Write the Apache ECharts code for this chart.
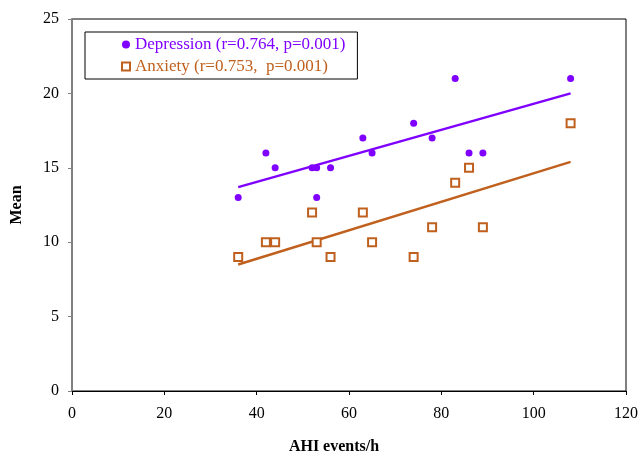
<!DOCTYPE html>
<html>
<head>
<meta charset="utf-8">
<script src="https://cdn.jsdelivr.net/npm/echarts@6/dist/echarts.min.js"></script>
<style>
  html, body { margin: 0; padding: 0; background: #fff; }
  #main { width: 638px; height: 455px; }
</style>
</head>
<body>
<div id="main"></div>
<script>
// AHI events/h for each patient
var ahi = [36, 42, 44, 52, 53, 53, 56, 63, 65, 74, 78, 83, 86, 89, 108];
var depression = [13, 16, 15, 15, 15, 13, 15, 17, 16, 18, 17, 21, 16, 16, 21];
var anxietyAhi = [36, 42, 44, 52, 53, 56, 63, 65, 74, 78, 83, 86, 89, 108];
var anxiety = [9, 10, 10, 12, 10, 9, 12, 10, 9, 11, 14, 15, 11, 18];
// trend line ends
var depTrend = [[36, 13.7], [108, 20.0]];
var anxTrend = [[36, 8.5], [108, 15.4]];

var depName = "Depression (r=0.764, p=0.001)";
var anxName = "Anxiety (r=0.753,  p=0.001)";
var serif = '"Liberation Serif", "Times New Roman", serif';
var purple = "#7f00ff";
var brown = "#c0601e";

function pairs(xs, ys) {
  var out = [];
  for (var i = 0; i < xs.length; i++) out.push([xs[i], ys[i]]);
  return out;
}

var myChart = echarts.init(document.getElementById("main"));
myChart.setOption({
  animation: false,
  textStyle: { fontFamily: serif },
  grid: {
    left: 72, right: 12, top: 19, bottom: 64,
    containLabel: false,
    outerBoundsMode: "none",
    show: true, borderColor: "#000", borderWidth: 1
  },
  legend: {
    left: 85, top: 32,
    orient: "vertical",
    padding: [4, 12, 4, 36],
    itemWidth: 8, itemHeight: 8,
    itemGap: 5,
    borderColor: "#000", borderWidth: 1,
    backgroundColor: "#fff",
    textStyle: { fontFamily: serif, fontSize: 17 },
    data: [
      { name: depName, icon: "circle", textStyle: { color: purple } },
      { name: anxName, icon: "rect", textStyle: { color: brown } }
    ]
  },
  xAxis: {
    type: "value",
    min: 0, max: 120, interval: 20,
    name: "AHI events/h",
    nameLocation: "middle",
    nameGap: 48,
    nameTextStyle: { fontFamily: serif, fontSize: 16, fontWeight: "bold", color: "#000", padding: [0, 30, 0, 0] },
    axisLine: { lineStyle: { color: "#000", width: 1 } },
    axisTick: { show: true, length: 4, lineStyle: { color: "#000" } },
    axisLabel: { color: "#000", fontSize: 16, margin: 15, fontFamily: serif },
    splitLine: { show: false }
  },
  yAxis: {
    type: "value",
    min: 0, max: 25, interval: 5,
    name: "Mean",
    nameLocation: "middle",
    nameGap: 47,
    nameRotate: 90,
    nameTextStyle: { fontFamily: serif, fontSize: 16, fontWeight: "bold", color: "#000" },
    axisLine: { show: true, lineStyle: { color: "#808080", width: 2 } },
    axisTick: { show: true, length: 4, lineStyle: { color: "#808080" } },
    axisLabel: { color: "#000", fontSize: 16, margin: 13, fontFamily: serif },
    splitLine: { show: false }
  },
  series: [
    {
      name: depName,
      type: "scatter",
      symbol: "circle",
      symbolSize: 7,
      itemStyle: { color: purple, opacity: 1 },
      data: pairs(ahi, depression),
      z: 3
    },
    {
      name: anxName,
      type: "scatter",
      symbol: "rect",
      symbolSize: 8,
      itemStyle: { color: "#fff", borderColor: brown, borderWidth: 2, opacity: 1 },
      data: pairs(anxietyAhi, anxiety),
      z: 3
    },
    {
      name: "depTrend",
      type: "line",
      showSymbol: false,
      symbol: "none",
      lineStyle: { color: purple, width: 2.5 },
      data: depTrend,
      z: 2
    },
    {
      name: "anxTrend",
      type: "line",
      showSymbol: false,
      symbol: "none",
      lineStyle: { color: brown, width: 2.5 },
      data: anxTrend,
      z: 2
    }
  ]
});
</script>
</body>
</html>
